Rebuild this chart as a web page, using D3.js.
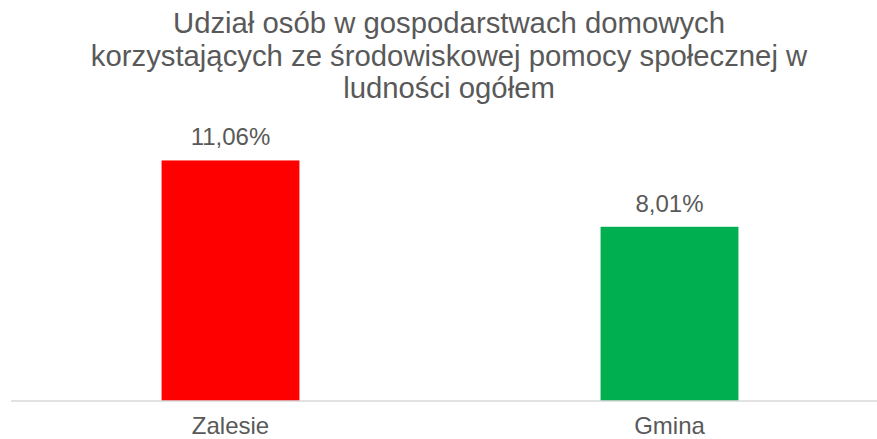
<!DOCTYPE html>
<html>
<head>
<meta charset="utf-8">
<script src="https://cdn.jsdelivr.net/npm/d3@7"></script>
<style>
  body { margin: 0; background: #fff; }
  text { font-family: "Liberation Sans", Arial, sans-serif; fill: #595959; }
</style>
</head>
<body>
<svg id="chart"></svg>
<script>
// chart data
const categories = ['Zalesie', 'Gmina'];
const values = [11.06, 8.01];
const barColors = ['#ff0000', '#00b050'];
const titleLines = [
    'Udział osób w gospodarstwach domowych',
    'korzystających ze środowiskowej pomocy społecznej w',
    'ludności ogółem'
];

const W = 877;
const H = 439;

const svg = d3.select('#chart')
    .attr('width', W)
    .attr('height', H);

// title
svg.append('text')
    .attr('text-anchor', 'middle')
    .style('font-size', '29.3px')
    .selectAll('tspan')
    .data(titleLines)
    .enter()
    .append('tspan')
    .attr('x', 449)
    .attr('y', (d, i) => 33 + i * 32.5)
    .text(d => d);

// scales
const xScale = d3.scaleBand()
    .domain(categories)
    .range([11, 889])
    .paddingInner(0.686)
    .paddingOuter(0.343);

const yScale = d3.scaleLinear()
    .domain([0, 12])
    .range([401, 140]);

// bars
svg.selectAll('.bar')
    .data(values)
    .enter()
    .append('rect')
    .attr('class', 'bar')
    .attr('x', (d, i) => xScale(categories[i]))
    .attr('y', d => yScale(d))
    .attr('width', xScale.bandwidth())
    .attr('height', d => yScale(0) - yScale(d))
    .attr('fill', (d, i) => barColors[i]);

// value labels
svg.selectAll('.label')
    .data(values)
    .enter()
    .append('text')
    .attr('class', 'label')
    .attr('text-anchor', 'middle')
    .style('font-size', '24px')
    .attr('x', (d, i) => xScale(categories[i]) + xScale.bandwidth() / 2)
    .attr('y', d => yScale(d) - 15)
    .text(d => d.toFixed(2).replace('.', ',') + '%');

// x axis
const xAxis = d3.axisBottom(xScale).tickSize(0).tickPadding(16);
const axisG = svg.append('g')
    .attr('transform', `translate(0, ${yScale(0)})`)
    .call(xAxis);
axisG.select('.domain').remove();
axisG.append('line')
    .attr('x1', 11)
    .attr('x2', W)
    .attr('stroke', '#d9d9d9')
    .attr('stroke-width', 1.5);
axisG.selectAll('.tick text')
    .style('font-size', '24px')
    .style('font-family', '"Liberation Sans", Arial, sans-serif')
    .attr('fill', '#595959');
</script>
</body>
</html>
